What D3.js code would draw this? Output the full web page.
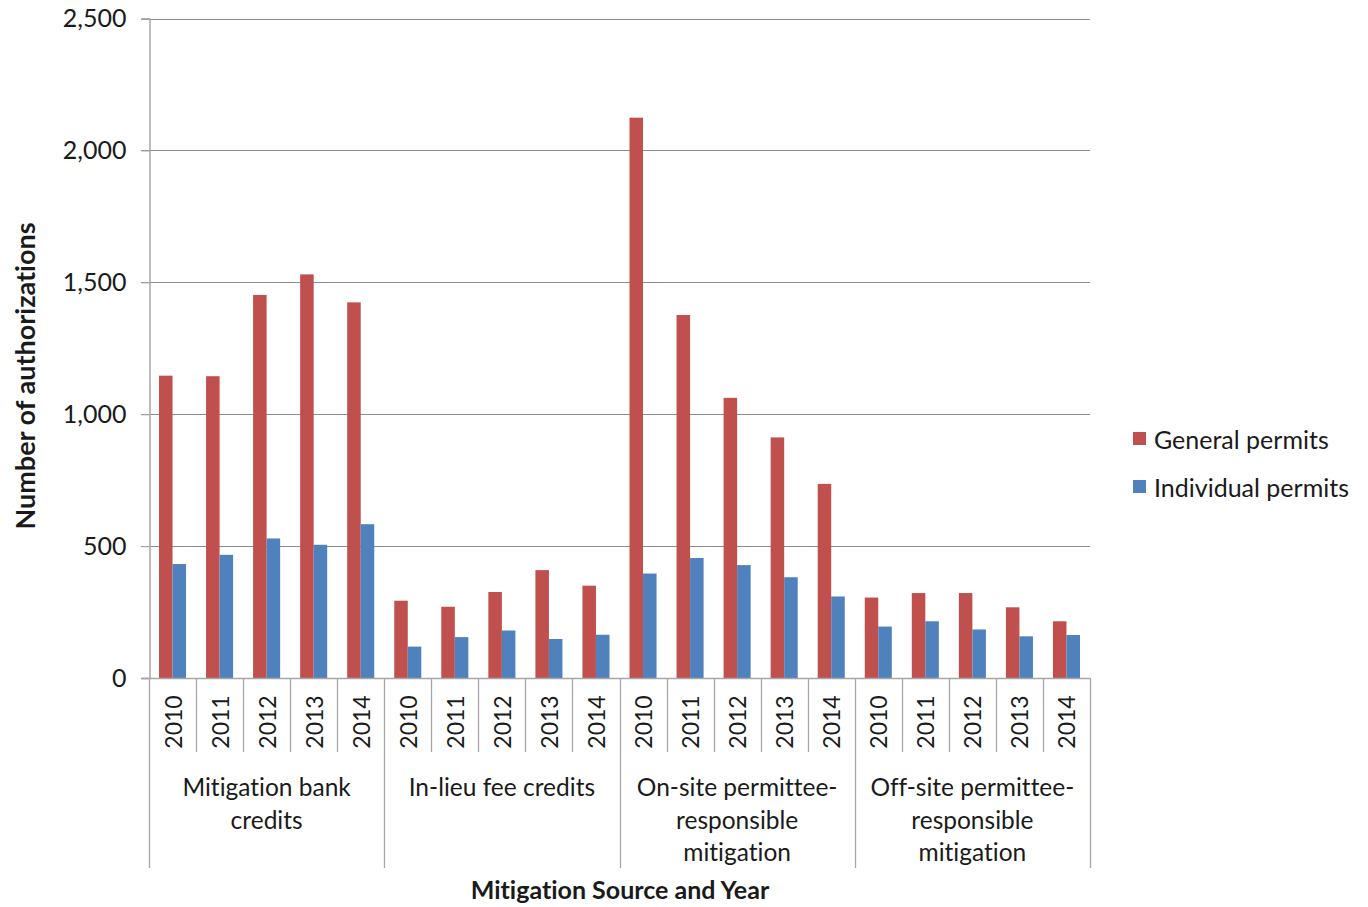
<!DOCTYPE html>
<html><head><meta charset="utf-8">
<script src="https://cdn.jsdelivr.net/npm/d3@7"></script>
<style>
body{margin:0;background:#fff;}
text{font-family:Lato, "Open Sans", sans-serif;fill:#1a1a1a;font-variant-ligatures:none;}
</style></head>
<body><svg id="c" width="1368" height="907"></svg>
<script>
const groups = ["Mitigation bank credits","In-lieu fee credits","On-site permittee-responsible mitigation","Off-site permittee-responsible mitigation"];
const groupLines = [["Mitigation bank","credits"],["In-lieu fee credits"],["On-site permittee-","responsible","mitigation"],["Off-site permittee-","responsible","mitigation"]];
const years = ["2010","2011","2012","2013","2014"];
const seriesNames = ["General permits","Individual permits"];
const colors = ["#C0504D","#4F81BD"];
const generalPermits = [1146,1144,1452,1530,1424, 293,270,326,409,350, 2124,1376,1062,912,736, 305,322,322,268,215];
const individualPermits = [432,467,529,505,583, 119,155,180,148,164, 396,455,428,382,309, 195,215,184,158,163];
const yTicks = [0,500,1000,1500,2000,2500];

const svg = d3.select("#c");
const L=149, R=1090, T=18.5, B=678;
const slots = [];
groups.forEach((g,gi)=>years.forEach(y=>slots.push(gi+"|"+y)));
const x = d3.scaleBand().domain(slots).range([L,R]).padding(0);
const xs = d3.scaleBand().domain(seriesNames).range([0,x.bandwidth()]).paddingInner(0).paddingOuter(0.74);
const y = d3.scaleLinear().domain([0,2500]).range([B,T]);

// gridlines
svg.append("g").selectAll("line").data(yTicks.filter(d=>d>0)).join("line")
  .attr("x1",L-8).attr("x2",R).attr("y1",d=>Math.round(y(d))+0.5).attr("y2",d=>Math.round(y(d))+0.5)
  .attr("stroke","#8c8c8c").attr("stroke-width",1.2);

// y axis
const ya = svg.append("g").attr("transform",`translate(${L+0.5},0)`)
  .call(d3.axisLeft(y).tickValues(yTicks).tickFormat(d3.format(",")).tickSize(8).tickPadding(15));
ya.select(".domain").attr("stroke","#a6a6a6").attr("stroke-width",1.5);
ya.selectAll(".tick line").attr("stroke","#a6a6a6").attr("stroke-width",1.2);
ya.selectAll(".tick text").style("font-family","Lato").style("font-size","25px").attr("fill","#1a1a1a");

// bars
const data = slots.map((s,i)=>({s, v:[generalPermits[i],individualPermits[i]]}));
const gb = svg.append("g").selectAll("g").data(data).join("g").attr("transform",d=>`translate(${x(d.s)},0)`);
gb.selectAll("rect").data(d=>d.v.map((v,k)=>({k,v}))).join("rect")
  .attr("x",d=>xs(seriesNames[d.k])).attr("width",xs.bandwidth())
  .attr("y",d=>y(d.v)).attr("height",d=>B-y(d.v)).attr("fill",d=>colors[d.k]);

// x axis baseline
svg.append("line").attr("x1",L-8).attr("x2",R).attr("y1",B+0.5).attr("y2",B+0.5).attr("stroke","#a6a6a6").attr("stroke-width",1.5);

// separators
const sepPositions = slots.map(s=>x(s)).concat([R]);
svg.append("g").selectAll("line").data(sepPositions).join("line")
  .attr("x1",d=>Math.round(d)+0.5).attr("x2",d=>Math.round(d)+0.5).attr("y1",B)
  .attr("y2",(d,i)=> (i%5===0)?868:752)
  .attr("stroke","#a6a6a6").attr("stroke-width",1.3);

// year labels
svg.append("g").selectAll("text").data(slots).join("text")
  .attr("transform",s=>`translate(${x(s)+x.bandwidth()/2},722) rotate(-90)`)
  .attr("text-anchor","middle").attr("dominant-baseline","central")
  .style("font-size","23px").text(s=>s.split("|")[1]);

// group labels
groups.forEach((g,gi)=>{
  const cx = x(gi+"|2010") + x.bandwidth()*2.5;
  const t = svg.append("text").attr("x",cx).attr("y",786).attr("text-anchor","middle").attr("dominant-baseline","central").style("font-size","24.5px");
  groupLines[gi].forEach((ln,li)=>t.append("tspan").attr("x",cx).attr("y",786+li*32.5).text(ln));
});

// axis titles
svg.append("text").attr("x",620).attr("y",889).attr("text-anchor","middle").attr("dominant-baseline","central")
  .style("font-size","25px").style("font-weight","bold").text("Mitigation Source and Year");
svg.append("text").attr("transform","translate(24,376) rotate(-90)").attr("text-anchor","middle").attr("dominant-baseline","central")
  .style("font-size","27px").style("font-weight","bold").text("Number of authorizations");

// legend
const lg = svg.append("g").selectAll("g").data(seriesNames).join("g").attr("transform",(d,i)=>`translate(1133,${439+i*48})`);
lg.append("rect").attr("x",0).attr("y",-7).attr("width",13).attr("height",13).attr("fill",(d,i)=>colors[i]);
lg.append("text").attr("x",21).attr("y",0).attr("dominant-baseline","central").style("font-size","25px").text(d=>d);
</script></body></html>
